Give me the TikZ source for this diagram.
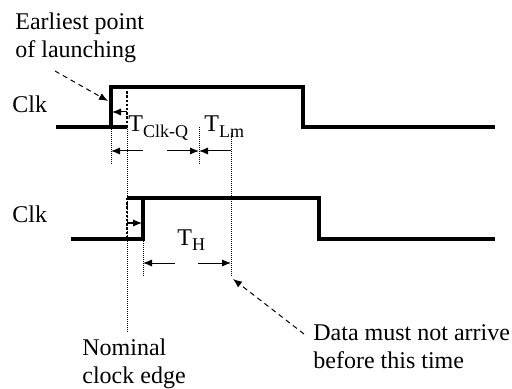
\documentclass[tikz,border=0pt]{standalone}
\usepackage{fontspec}
\setmainfont{Liberation Serif}
\usetikzlibrary{positioning, arrows.meta, calc}
\newcommand{\tsub}[1]{\raisebox{-2.8pt}{\fontsize{9}{10}\selectfont #1}}

\begin{document}
\begin{tikzpicture}[x=0.5pt, y=-0.5pt,
    clkline/.style={line width=2pt, line join=miter},
    nomedge/.style={line width=1.2pt, dash pattern=on 1.2pt off 0.9pt},
    guide/.style={line width=0.45pt, dash pattern=on 0.5pt off 0.5pt},
    dimarrow/.style={line width=0.5pt, -{Latex[length=4.5pt,width=3.6pt]}},
    callout/.style={line width=0.5pt, dash pattern=on 2.5pt off 2pt, -{Latex[length=4.5pt,width=3.6pt]}},
    lbl/.style={font=\fontsize{12}{14}\selectfont, inner sep=0pt, align=left}
]
\useasboundingbox (0,0) rectangle (512,389);

% Punkte
\coordinate (eA) at (111,127);  % fruehe Flanke
\coordinate (eB) at (111,165);
\coordinate (nA) at (127,87);   % nominale Flanke
\coordinate (nB) at (127,332);
\coordinate (qA) at (199,127);
\coordinate (qB) at (199,165);
\coordinate (mA) at (231,133);
\coordinate (mB) at (231,277);
\coordinate (hA) at (143,239);
\coordinate (hB) at (143,277);

% Takte
\draw[clkline] (56,127) -- (127,127);
\draw[clkline] (eA) -- (111,87) -- (303,87) -- (303,127) -- (495,127);
\draw[clkline] (71,239) -- (hA) -- (143,198) -- (319,198) -- (319,239) -- (495,239);
\draw[clkline] (127,198) -- (143,198);

% Hilfslinien
\draw[nomedge] (nA) -- (127,127);
\draw[nomedge] (127,198) -- (127,239);
\draw[guide] (eA) -- (eB);
\draw[guide] (127,127) -- (nB);
\draw[guide] (qA) -- (qB);
\draw[guide] (mA) -- (mB);
\draw[guide] (hA) -- (hB);

% Beschriftungen
\node[lbl, anchor=north west] (early) at (15,12.5) {Earliest point\\of launching};
\node[lbl, anchor=base west] (clkA) at (12,113) {Clk};
\node[lbl, anchor=base west] (clkB) at (12,222) {Clk};
\node[lbl, anchor=base west] (tcq) at (128,132) {T\tsub{Clk-Q}};
\node[lbl, anchor=base west] (tlm) at (204,132) {T\tsub{Lm}};
\node[lbl, anchor=base west] (th) at (177,245) {T\tsub{H}};
\node[lbl, anchor=north west] (nominal) at (82,338.5) {Nominal\\clock edge};
\node[lbl, anchor=north west] (data) at (313,324) {Data must not arrive\\before this time};

% Pfeile
\draw[dimarrow] (127,112) -- (112,112);
\draw[dimarrow] (127,223) -- (142,223);
\draw[dimarrow] (143,151) -- (eA |- 0,151);
\draw[dimarrow] (167,151) -- (qA |- 0,151);
\draw[dimarrow, {Latex[length=4.5pt,width=3.6pt]}-] (qA |- 0,151) -- (mA |- 0,151);
\draw[dimarrow] (175,263) -- (hA |- 0,263);
\draw[dimarrow] (198,263) -- (mA |- 0,263);
\draw[callout] (55,71) -- (108,101);
\draw[callout] (304,334) -- ($(mB)+(2,2)$);

\end{tikzpicture}
\end{document}
